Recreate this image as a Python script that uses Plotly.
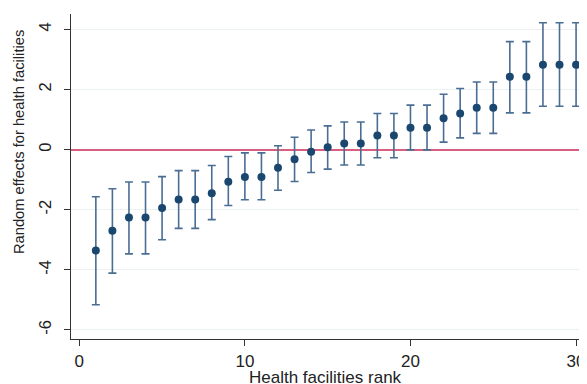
import plotly.graph_objects as go

rank = list(range(1, 31))
effect = [-3.36, -2.70, -2.26, -2.26, -1.94, -1.66, -1.66, -1.45, -1.07, -0.91,
          -0.91, -0.60, -0.32, -0.07, 0.08, 0.20, 0.20, 0.47, 0.47, 0.73,
          0.73, 1.04, 1.20, 1.39, 1.39, 2.42, 2.42, 2.82, 2.82, 2.82]
upper = [-1.57, -1.30, -1.08, -1.08, -0.90, -0.70, -0.70, -0.53, -0.23, -0.11,
         -0.11, 0.13, 0.41, 0.65, 0.79, 0.92, 0.92, 1.20, 1.20, 1.48,
         1.48, 1.84, 2.03, 2.25, 2.25, 3.59, 3.59, 4.22, 4.22, 4.22]
lower = [-5.16, -4.11, -3.47, -3.47, -3.00, -2.62, -2.62, -2.33, -1.86, -1.67,
         -1.67, -1.35, -1.06, -0.76, -0.65, -0.51, -0.51, -0.27, -0.27, -0.01,
         -0.01, 0.25, 0.39, 0.54, 0.54, 1.22, 1.22, 1.44, 1.44, 1.44]
x_ticks = [0, 10, 20, 30]
y_ticks = [-6, -4, -2, 0, 2, 4]
y_ticklabels = ["-6", "-4", "-2", "0", "2", "4"]

err_plus = [u - e for u, e in zip(upper, effect)]
err_minus = [e - l for e, l in zip(effect, lower)]

fig = go.Figure()
fig.add_trace(go.Scatter(
    x=rank, y=effect, mode="markers",
    marker=dict(color="#1a476f", size=8),
    error_y=dict(type="data", symmetric=False, array=err_plus, arrayminus=err_minus,
                 color="#4a6d94", thickness=1.6, width=4),
    showlegend=False, cliponaxis=False,
))

# the page body adds an 8px offset; the figure is sized to fill the rest
W, H = 579, 376
L, T, B = 63, 6, 45
pw, ph = W - L, H - T - B

font = dict(family="Liberation Sans, Arial, sans-serif", color="#222222")
fig.update_layout(
    width=W, height=H,
    margin=dict(l=L, r=0, t=T, b=B, autoexpand=False),
    plot_bgcolor="white", paper_bgcolor="white",
    font=font,
    xaxis=dict(range=[-0.5, 30.66], tickvals=x_ticks, ticks="outside", ticklen=6,
               tickcolor="#333", showgrid=False, zeroline=False, showline=True,
               linecolor="#333", linewidth=1.2, tickfont=dict(size=17),
               automargin=False),
    yaxis=dict(range=[-6.3, 4.51], tickvals=y_ticks, ticktext=y_ticklabels,
               ticks="outside", ticklen=6,
               tickcolor="#333", showgrid=True, gridcolor="#eaf1f2", gridwidth=1,
               zeroline=True, zerolinecolor="#d95f80", zerolinewidth=2,
               showline=True, linecolor="#333", linewidth=1.2,
               tickangle=-90, tickfont=dict(size=16.5), automargin=False,
               ticklabelstandoff=6),
    annotations=[
        dict(text="Health facilities rank", xref="paper", yref="paper",
             x=(317 - L) / pw, y=-(369 - (H - B)) / ph,
             xanchor="center", yanchor="middle", showarrow=False, font=dict(size=17)),
        dict(text="Random effects for health facilities", textangle=-90,
             xref="paper", yref="paper", x=-(L - 11) / pw, y=((H - B) - 134) / ph,
             xanchor="center", yanchor="middle", showarrow=False, font=dict(size=14.7)),
    ],
)
fig.write_html("out.html")
